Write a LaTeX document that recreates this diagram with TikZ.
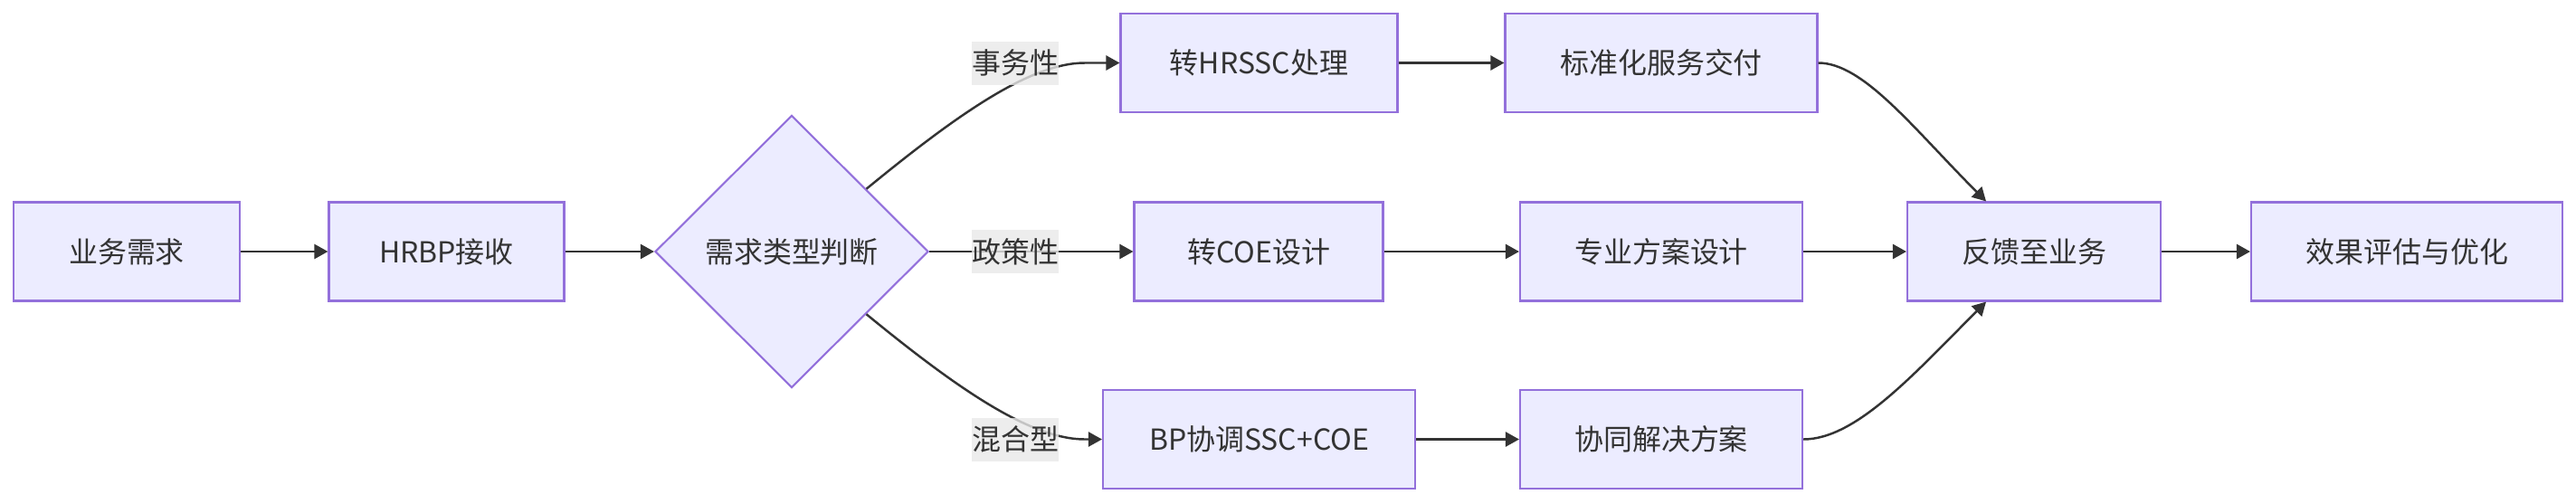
\documentclass[tikz,border=0pt]{standalone}
\usepackage{fontspec}
\setmainfont{Noto Sans CJK SC}
\usetikzlibrary{arrows.meta,shapes.geometric}
\definecolor{boxfill}{HTML}{ECECFF}
\definecolor{boxline}{HTML}{9370DB}
\definecolor{ink}{HTML}{333333}
\definecolor{lblgray}{HTML}{E8E8E8}
\begin{document}
\begin{tikzpicture}[
  >={Triangle[length=1.5mm,width=1.6mm]},
  every node/.style={font=\fontsize{9.1pt}{11pt}\selectfont, text=ink},
  proc/.style={draw=boxline, fill=boxfill, line width=0.6pt, minimum height=1.09cm, inner sep=0pt},
  decide/.style={diamond, aspect=1, draw=boxline, fill=boxfill, line width=0.6pt,
    minimum width=3.02cm, minimum height=3.01cm, inner sep=0pt},
  edgelbl/.style={fill=lblgray, fill opacity=0.8, text opacity=1, inner sep=0pt,
    minimum width=0.96cm, minimum height=0.48cm},
  link/.style={->, draw=ink, line width=0.7pt}
]
  \def\ytop{4.865}
  \def\ymid{2.78}
  \def\ybot{0.705}
  \useasboundingbox (0,0) rectangle (28.47,5.56);
  \node[proc, minimum width=2.50cm] (req) at (1.40,\ymid) {业务需求};
  \node[proc, minimum width=2.60cm] (hrbp) at (4.935,\ymid) {HRBP接收};
  \node[decide] (judge) at (8.75,\ymid) {需求类型判断};
  \node[proc, minimum width=3.06cm] (ssc) at (13.915,\ytop) {转HRSSC处理};
  \node[proc, minimum width=3.45cm] (std) at (18.36,\ytop) {标准化服务交付};
  \node[proc, minimum width=2.75cm] (coe) at (13.91,\ymid) {转COE设计};
  \node[proc, minimum width=3.12cm] (plan) at (18.36,\ymid) {专业方案设计};
  \node[proc, minimum width=3.45cm] (bp) at (13.915,\ybot) {BP协调SSC+COE};
  \node[proc, minimum width=3.12cm] (joint) at (18.36,\ybot) {协同解决方案};
  \node[proc, minimum width=2.80cm] (fb) at (22.48,\ymid) {反馈至业务};
  \node[proc, minimum width=3.44cm] (assess) at (26.60,\ymid) {效果评估与优化};

  \draw[link] (req) -- (hrbp);
  \draw[link] (hrbp) -- (judge);
  \draw[link] (judge.40) .. controls +(1.0,0.82) and +(-0.6,0) .. ([xshift=-0.385cm]ssc.west) -- (ssc.west);
  \draw[link] (judge) -- (coe);
  \draw[link] (judge.-40) .. controls +(1.0,-0.82) and +(-0.6,0) .. ([xshift=-0.19cm]bp.west) -- (bp.west);
  \draw[link] (ssc) -- (std);
  \draw[link] (coe) -- (plan);
  \draw[link] (bp) -- (joint);
  \draw[link] (std.east) .. controls +(0.5,0) and +(-0.8,0.8) .. ([xshift=-0.53cm]fb.north);
  \draw[link] (plan) -- (fb);
  \draw[link] (joint.east) .. controls +(0.58,0) and +(-0.8,-0.8) .. ([xshift=-0.53cm]fb.south);
  \draw[link] (fb) -- (assess);

  \node[edgelbl] (lab1) at (11.22,\ytop) {事务性};
  \node[edgelbl] (lab2) at (11.22,\ymid) {政策性};
  \node[edgelbl] (lab3) at (11.22,\ybot) {混合型};
\end{tikzpicture}
\end{document}
